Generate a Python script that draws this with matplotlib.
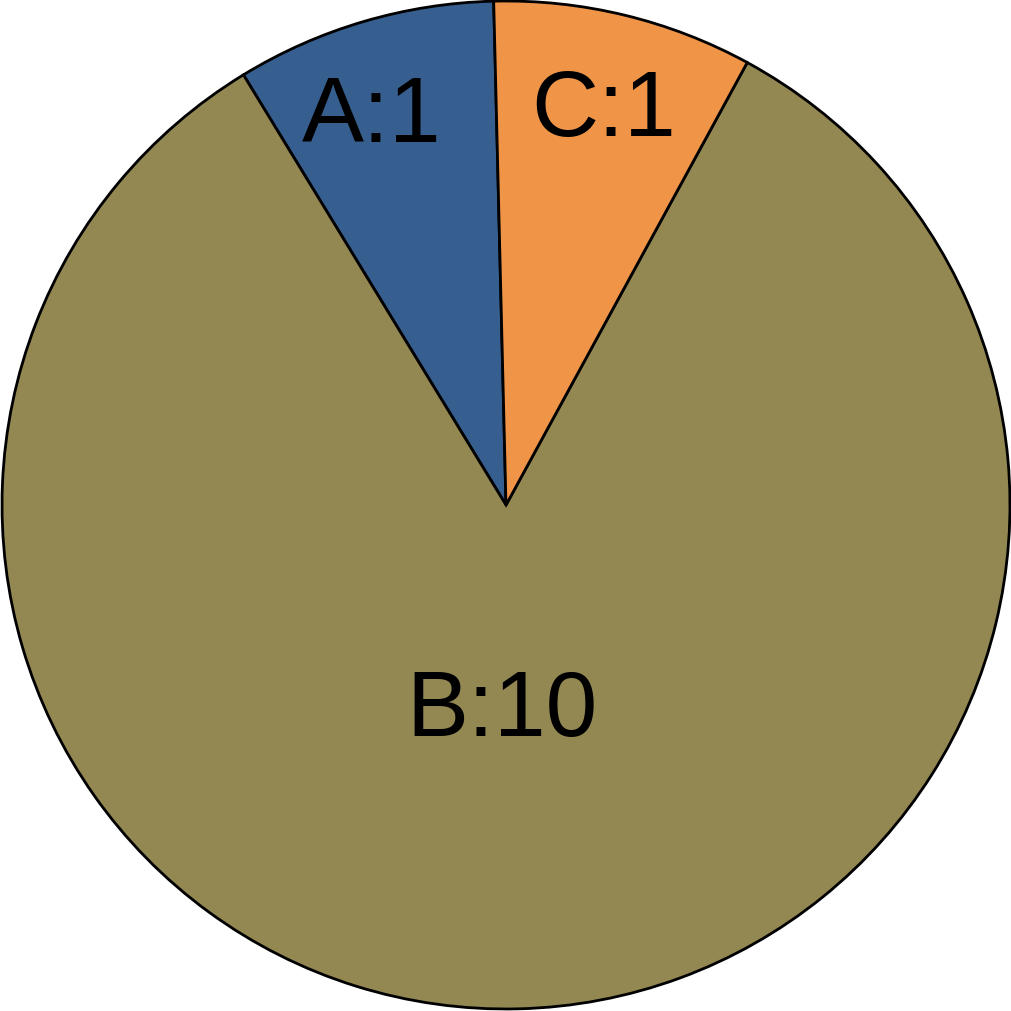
import matplotlib
matplotlib.use("Agg")
import matplotlib.pyplot as plt
import numpy as np

categories = ["A", "B", "C"]
values = [1, 10, 1]
colors = ["#365E8F", "#938752", "#F09548"]
label_radius = [0.833, 0.39, 0.823]
label_angle_shift = [2.3, -2.6, 0.0]

fig = plt.figure(figsize=(10.12, 10.12), dpi=100)
ax = fig.add_axes([0, 0, 1, 1])
wedges, _ = ax.pie(values, colors=colors, startangle=91.4, counterclock=True,
                   wedgeprops=dict(edgecolor="black", linewidth=2.0), radius=1.0)
for w, cat, val, r, sh in zip(wedges, categories, values, label_radius, label_angle_shift):
    mid = np.deg2rad((w.theta1 + w.theta2) / 2 + sh)
    ax.text(r * np.cos(mid), r * np.sin(mid), f"{cat}:{val}", ha="center", va="center_baseline",
            fontsize=67, family=["Liberation Sans", "DejaVu Sans"], color="black")
ax.set_xlim(-1.004, 1.004)
ax.set_ylim(-1.004, 1.004)
ax.set_aspect("equal")
ax.axis("off")
fig.savefig("out.png", dpi=100, facecolor="white")
